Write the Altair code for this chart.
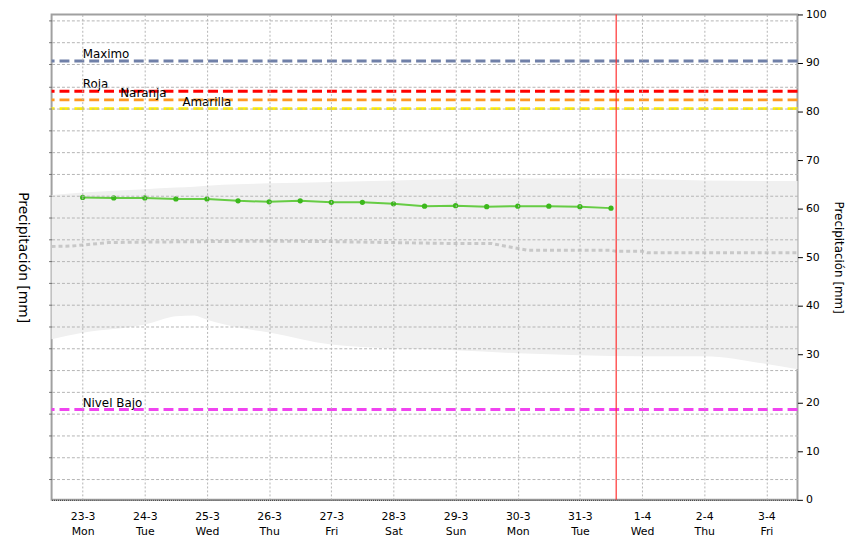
import altair as alt
import pandas as pd

# ---- data ----
obs_times = ["2020-03-23T00:00", "2020-03-23T12:00", "2020-03-24T00:00", "2020-03-24T12:00",
             "2020-03-25T00:00", "2020-03-25T12:00", "2020-03-26T00:00", "2020-03-26T12:00",
             "2020-03-27T00:00", "2020-03-27T12:00", "2020-03-28T00:00", "2020-03-28T12:00",
             "2020-03-29T00:00", "2020-03-29T12:00", "2020-03-30T00:00", "2020-03-30T12:00",
             "2020-03-31T00:00", "2020-03-31T12:00"]
obs_values = [62.3, 62.2, 62.2, 62.0, 62.0, 61.6, 61.4, 61.6, 61.3, 61.3, 61.0, 60.5,
              60.6, 60.4, 60.5, 60.5, 60.4, 60.1]

band_times = ["2020-03-22T12:00", "2020-03-23T00:00", "2020-03-24T00:00", "2020-03-24T12:00",
              "2020-03-24T19:00", "2020-03-25T00:00", "2020-03-25T12:00", "2020-03-26T00:00",
              "2020-03-27T00:00", "2020-03-28T00:00", "2020-03-28T16:00", "2020-03-29T00:00",
              "2020-03-30T00:00", "2020-03-31T00:00", "2020-04-01T00:00", "2020-04-02T00:00",
              "2020-04-03T00:00", "2020-04-03T12:00"]
band_low = [33.1, 34.4, 36.1, 37.8, 38.0, 37.1, 35.5, 34.5, 32.0, 31.2, 31.0, 30.8,
            30.2, 29.8, 29.6, 29.6, 28.0, 26.9]
band_high = [62.8, 63.3, 64.0, 64.35, 64.5, 64.7, 65.0, 65.2, 65.5, 65.8, 66.0, 66.1,
             66.2, 66.2, 66.1, 65.8, 65.7, 65.7]

med_times = ["2020-03-22T12:00", "2020-03-22T20:00", "2020-03-23T10:00", "2020-03-24T00:00",
             "2020-03-25T00:00", "2020-03-26T00:00", "2020-03-27T00:00", "2020-03-28T00:00",
             "2020-03-29T00:00", "2020-03-29T14:00", "2020-03-30T04:00", "2020-03-31T12:00",
             "2020-03-31T14:00", "2020-04-01T00:00", "2020-04-01T02:00", "2020-04-03T12:00"]
med_values = [52.2, 52.3, 53.0, 53.1, 53.2, 53.3, 53.2, 53.0, 52.8, 52.8, 51.4, 51.4,
              51.2, 51.2, 50.9, 50.9]

thr_names = ["Maximo", "Roja", "Naranja", "Amarilla", "Nivel Bajo"]
thr_values = [90.4, 84.2, 82.4, 80.6, 18.6]
thr_colors = ["#7080a8", "#ff0000", "#ff9922", "#ffee00", "#f044f0"]
thr_label_times = ["2020-03-23T00:00", "2020-03-23T00:00", "2020-03-23T14:30",
                   "2020-03-24T14:30", "2020-03-23T00:00"]

now_time = ["2020-03-31T14:00"]

grid_values = [4.2, 8.7, 13.2, 17.7, 22.2, 26.7, 31.2, 35.7, 40.2, 44.7, 49.2, 53.7,
               58.2, 62.7, 67.2, 71.7, 76.2, 80.7, 85.2, 89.7, 94.2, 98.7]
right_ticks = [0, 10, 20, 30, 40, 50, 60, 70, 80, 90, 100]
day_ticks = [(3, 23), (3, 24), (3, 25), (3, 26), (3, 27), (3, 28), (3, 29), (3, 30),
             (3, 31), (4, 1), (4, 2), (4, 3)]

y_title = "Precipitación [mm]"
FONT = "DejaVu Sans"

# ---- tables ----
obs = pd.DataFrame({"t": obs_times, "v": obs_values})
band = pd.DataFrame({"t": band_times, "lo": band_low, "hi": band_high})
med = pd.DataFrame({"t": med_times, "v": med_values})
thr = pd.DataFrame({"name": thr_names, "v": thr_values, "t": thr_label_times})
now = pd.DataFrame({"t": now_time})
axis_df = pd.DataFrame({"v": [0, 100]})

x_scale = alt.Scale(domain=[alt.DateTime(year=2020, month=3, date=22, hours=12),
                            alt.DateTime(year=2020, month=4, date=3, hours=12)])
y_scale = alt.Scale(domain=[0, 100], nice=False, zero=False)
x_vals = [alt.DateTime(year=2020, month=m, date=d) for m, d in day_ticks]

x_axis = alt.Axis(values=x_vals, title=None, grid=True, gridDash=[2, 2], gridColor="#b4b4b4",
                  ticks=False, domain=True, domainDash=[1, 1], domainColor="#303030",
                  labelExpr="[timeFormat(datum.value, '%-d-%-m'), timeFormat(datum.value, '%a')]",
                  labelFont=FONT, labelFontSize=11, labelColor="#000000", labelPadding=11,
                  labelLineHeight=15, labelOverlap=False, zindex=1)
X = alt.X("t:T", scale=x_scale, axis=x_axis)

left_axis = alt.Axis(orient="left", values=grid_values, labels=False, grid=True,
                     gridDash=[3, 2], gridColor="#b4b4b4", ticks=True, tickSize=3,
                     tickColor="#707070", domain=False, title=y_title, titleAngle=90,
                     titleFont=FONT, titleFontSize=14, titleFontWeight="normal",
                     titlePadding=33, titleColor="#000000", zindex=1)
right_axis = alt.Axis(orient="right", values=right_ticks, grid=False, ticks=True, tickSize=5,
                      tickColor="#000000", domain=False, labelFont=FONT, labelFontSize=11,
                      labelColor="#000000", labelPadding=3, title=y_title, titleAngle=90,
                      titleFont=FONT, titleFontSize=12, titleFontWeight="normal",
                      titlePadding=5, titleColor="#000000")

area = alt.Chart(band).mark_area(color="#f0f0f0", interpolate="monotone").encode(
    x=X, y=alt.Y("lo:Q", scale=y_scale, axis=left_axis), y2="hi:Q")

axis_right_layer = alt.Chart(axis_df).mark_point(opacity=0).encode(
    y=alt.Y("v:Q", scale=y_scale, axis=right_axis))

median = alt.Chart(med).mark_line(color="#c8c8c8", strokeWidth=3, strokeDash=[4, 3]).encode(
    x=X, y=alt.Y("v:Q", scale=y_scale, axis=None))

thr_color = alt.Color("name:N", scale=alt.Scale(domain=thr_names, range=thr_colors), legend=None)
thr_lines = alt.Chart(thr).mark_rule(strokeWidth=3, strokeDash=[10, 5]).encode(
    y=alt.Y("v:Q", scale=y_scale, axis=None), color=thr_color)
thr_text = alt.Chart(thr).mark_text(align="left", baseline="alphabetic", dy=-3, font=FONT,
                                    fontSize=12, color="#000000").encode(
    x=X, y=alt.Y("v:Q", scale=y_scale, axis=None), text="name:N")

now_line = alt.Chart(now).mark_rule(color="#ff3030", strokeWidth=1.2).encode(x=X)

obs_line = alt.Chart(obs).mark_line(color="#66cc44", strokeWidth=2).encode(
    x=X, y=alt.Y("v:Q", scale=y_scale, axis=None))
obs_pts = alt.Chart(obs).mark_point(filled=True, shape="circle", size=28, color="#3cb81c",
                                    opacity=1).encode(
    x=X, y=alt.Y("v:Q", scale=y_scale, axis=None))

chart = alt.layer(area, axis_right_layer, median, thr_lines, thr_text, now_line, obs_line,
                  obs_pts).resolve_axis(y="independent").properties(
    width=753, height=490,
    padding={"left": 44, "top": 4, "right": 51, "bottom": 36},
    autosize=alt.AutoSizeParams(type="none"),
    background="#ffffff",
).configure_view(stroke="#a0a0a0", strokeWidth=2)

chart.save("out.html", embed_options={"renderer": "svg", "actions": False})
